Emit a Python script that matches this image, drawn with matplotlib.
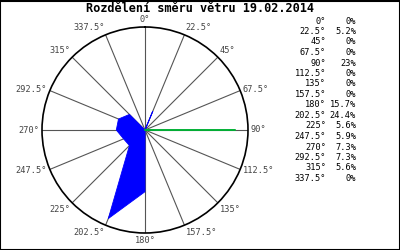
import numpy as np
import matplotlib
matplotlib.use("Agg")
import matplotlib.pyplot as plt

title = "Rozdělení směru větru 19.02.2014"
directions = [0, 22.5, 45, 67.5, 90, 112.5, 135, 157.5,
              180, 202.5, 225, 247.5, 270, 292.5, 315, 337.5]
percent = [0, 5.2, 0, 0, 23, 0, 0, 0,
           15.7, 24.4, 5.6, 5.9, 7.3, 7.3, 5.6, 0]
dir_labels = ["0°", "22.5°", "45°", "67.5°", "90°", "112.5°", "135°", "157.5°",
              "180°", "202.5°", "225°", "247.5°", "270°", "292.5°", "315°", "337.5°"]
pct_labels = ["0%", "5.2%", "0%", "0%", "23%", "0%", "0%", "0%",
              "15.7%", "24.4%", "5.6%", "5.9%", "7.3%", "7.3%", "5.6%", "0%"]

rmax = 26.2

fig = plt.figure(figsize=(4, 2.5), dpi=100)
fig.patch.set_facecolor("white")

# frame round the whole picture
fig.add_artist(plt.Rectangle((0.0012, 0.002), 0.9976, 0.996, transform=fig.transFigure,
                             fill=False, edgecolor="black", linewidth=1.5))

fig.text(0.5, 0.99, title, ha="center", va="top", fontsize=8.6,
         fontweight="bold", family="DejaVu Sans Mono")

ax = fig.add_axes([0.105, 0.068, 0.515, 0.824], projection="polar")
ax.set_theta_zero_location("N")
ax.set_theta_direction(-1)
ax.set_ylim(0, rmax)
ax.grid(False)
ax.set_yticks([])
ax.set_xticks([])
ax.spines["polar"].set_color("black")
ax.spines["polar"].set_linewidth(1.2)

theta = np.deg2rad(directions)
for t in theta:
    ax.plot([t, t], [0, rmax], color="#555555", linewidth=0.8, zorder=1)

ax.fill(theta, percent, facecolor="blue", edgecolor="blue", linewidth=0.6, zorder=3)
# the spike at 90 deg shows as a green line
i90 = directions.index(90)
ax.plot([theta[i90], theta[i90]], [0, percent[i90]], color="#00dd00", linewidth=1.1, zorder=4)

# direction labels just outside the circle
for t, lab in zip(theta, dir_labels):
    s, c = np.sin(t), np.cos(t)
    ha = "left" if s > 0.1 else ("right" if s < -0.1 else "center")
    va = "bottom" if c > 0.5 else ("top" if c < -0.5 else "center")
    ax.annotate(lab, xy=(t, rmax), xytext=(2 * s, 2 * c), textcoords="offset points",
                ha=ha, va=va, fontsize=6.2, family="DejaVu Sans Mono",
                color="#444444", annotation_clip=False)

# table of values on the right
y0 = 1 - 21 / 250
dy = 10.5 / 250
for i in range(len(directions)):
    y = y0 - i * dy
    fig.text(0.815, y, dir_labels[i], ha="right", va="center", fontsize=6.2,
             family="DejaVu Sans Mono")
    fig.text(0.89, y, pct_labels[i], ha="right", va="center", fontsize=6.2,
             family="DejaVu Sans Mono")

fig.savefig("out.png", dpi=100)
